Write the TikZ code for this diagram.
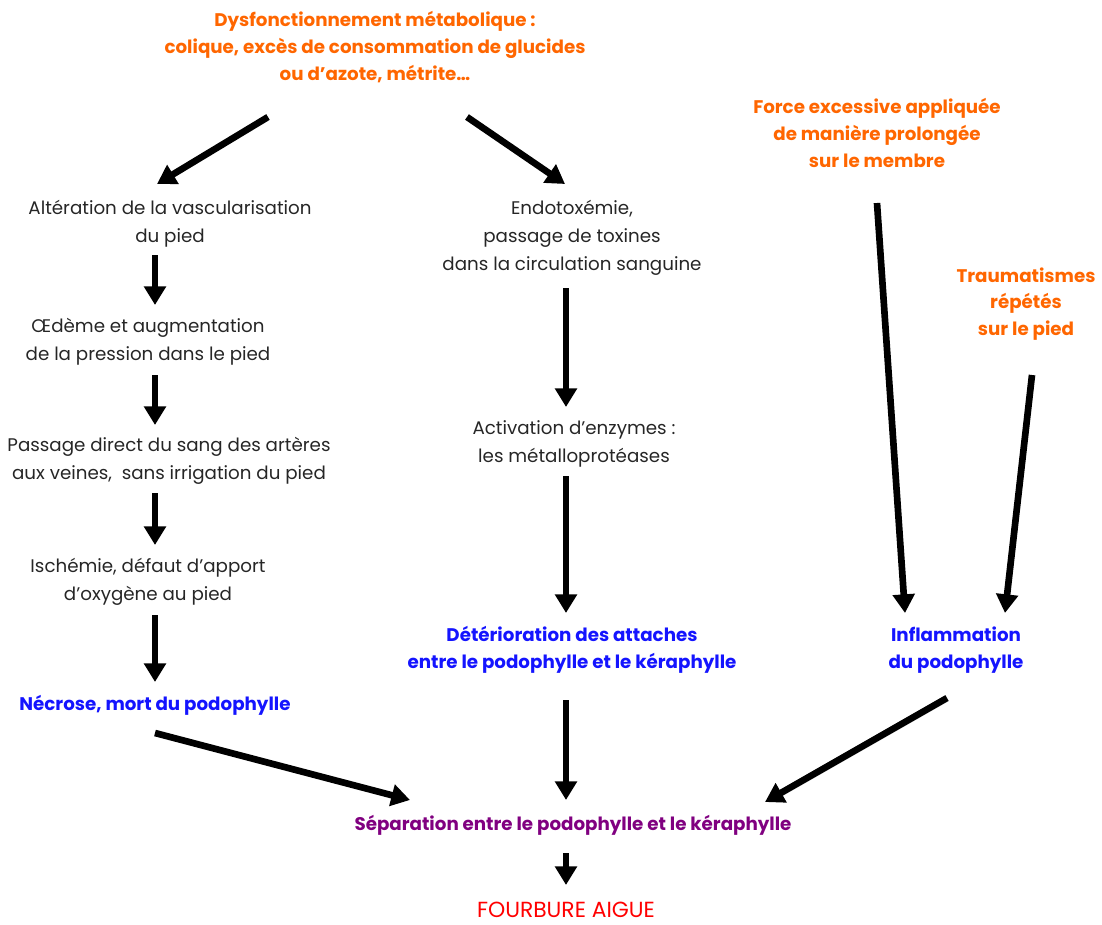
\documentclass[tikz,border=0pt]{standalone}
\usepackage{fontspec}
\setmainfont{Poppins}
\usepackage{tikz}
\usetikzlibrary{calc,positioning,arrows.meta}

\definecolor{orangecause}{RGB}{255,102,0}
\definecolor{bleueffet}{RGB}{20,20,255}
\definecolor{violetsep}{RGB}{128,0,128}
\definecolor{rougefin}{RGB}{255,0,0}

\begin{document}
\begin{tikzpicture}[
                x=0.75pt, y=-0.75pt,
                every node/.append style={align=center, inner sep=2pt},
                etape/.style={font=\fontsize{13.7}{21}\selectfont, text=black!85},
                cause/.style={font=\fontsize{13.7}{20}\selectfont\bfseries, text=orangecause},
                effet/.style={font=\fontsize{13.7}{20}\selectfont\bfseries, text=bleueffet},
                fleche/.style={line width=5pt, -{Triangle[length=14pt,width=16pt]}}
            ]
                \useasboundingbox (0,0) rectangle (1102,924);

                % causes
                \node[cause] (meta)   at (375,47)  {Dysfonctionnement métabolique :\\colique, excès de consommation de glucides\\ou d’azote, métrite…};
                \node[cause] (force)  at (877,133) {Force excessive appliquée\\de manière prolongée\\sur le membre};
                \node[cause] (trauma) at (1026,304) {Traumatismes\\répétés\\sur le pied};

                % voie vasculaire
                \node[etape] (alter)  at (170,224) {Altération de la vascularisation\\du pied};
                \node[etape] (oedeme) at (148,342) {Œdème et augmentation\\de la pression dans le pied};
                \node[etape] (shunt)  at (169,461) {Passage direct du sang des artères\\aux veines,\ \ sans irrigation du pied};
                \node[etape] (ischem) at (148,582) {Ischémie, défaut d’apport\\d’oxygène au pied};
                \node[effet] (necro)  at (155,705) {Nécrose, mort du podophylle};

                % voie toxinique
                \node[etape] (endo)   at (572,238) {Endotoxémie,\\passage de toxines\\dans la circulation sanguine};
                \node[etape] (enzym)  at (574,444) {Activation d’enzymes :\\les métalloprotéases};
                \node[effet] (deter)  at (572,650) {Détérioration des attaches\\entre le podophylle et le kéraphylle};

                \node[effet] (inflam) at (956,650) {Inflammation\\du podophylle};

                \node[font=\fontsize{13.7}{20}\selectfont\bfseries, text=violetsep] (separ) at (573,825) {Séparation entre le podophylle et le kéraphylle};
                \node[font=\fontsize{16.4}{20}\selectfont, text=rougefin] (fourbure) at (566,910) {FOURBURE AIGUE};

                % fleches
                \draw[fleche] ($(meta)+(-107,70)$) -- ($(alter)+(-13,-40)$);
                \draw[fleche] ($(meta)+(92,70)$) -- ($(endo)+(-7,-54)$);
                \draw[fleche] ($(alter)+(-15,31)$) -- ($(oedeme)+(7,-37)$);
                \draw[fleche] ($(oedeme)+(7,33)$) -- ($(shunt)+(-14,-36)$);
                \draw[fleche] ($(shunt)+(-14,32)$) -- ($(ischem)+(7,-37)$);
                \draw[fleche] ($(ischem)+(7,33)$) -- ($(necro)+(0,-23)$);
                \draw[fleche] ($(endo)+(-6,50)$) -- ($(enzym)+(-8,-37)$);
                \draw[fleche] ($(enzym)+(-8,32)$) -- ($(deter)+(-6,-37)$);
                \draw[fleche] ($(force)+(0,70)$) -- ($(inflam)+(-51,-37)$);
                \draw[fleche] ($(trauma)+(6,71)$) -- ($(inflam)+(49,-37)$);
                \draw[fleche] ($(necro)+(0,28)$) -- ($(separ)+(-163,-25)$);
                \draw[fleche] ($(deter)+(-6,50)$) -- ($(separ)+(-7,-25)$);
                \draw[fleche] ($(inflam)+(-9,48)$) -- ($(separ)+(192,-23)$);
                \draw[fleche] ($(separ)+(-7,28)$) -- ($(fourbure)+(0,-25)$);
            \end{tikzpicture}
\end{document}
